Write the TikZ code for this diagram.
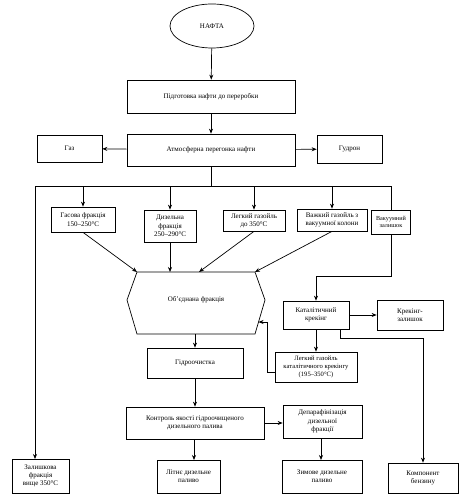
\documentclass[tikz,border=0pt]{standalone}
\usepackage{fontspec}
\setmainfont{Liberation Serif}
\usetikzlibrary{arrows.meta,shapes.geometric}
\begin{document}
\begin{tikzpicture}[x=1pt,y=-1pt,
  box/.style={draw=black,line width=0.7pt,rectangle,align=center,inner sep=0.5pt,
    font=\fontsize{7}{8.4}\selectfont},
  conn/.style={draw=black,line width=0.7pt},
  arr/.style={conn,-{Stealth[length=5pt,width=4pt]}}]
\useasboundingbox (0,0) rectangle (472,497);
\fill[white] (0,0) rectangle (472,497);
% top
\node[draw=black,line width=0.7pt,ellipse,minimum width=84pt,minimum height=44pt,
  font=\fontsize{7}{8.4}\selectfont] (nafta) at (212,26) {НАФТА};
\node[box,minimum width=168pt,minimum height=33pt] (prep) at (211,96.5) {Підготовка нафти до переробки};
\node[box,minimum width=168pt,minimum height=32pt] (atm) at (211,150) {Атмосферна перегонка нафти};
\node[box,minimum width=65pt,minimum height=27pt] (gas) at (69.5,148.5) {Газ};
\node[box,minimum width=65pt,minimum height=28pt] (gud) at (349.5,149) {Гудрон};
\draw[arr] (nafta) -- (prep);
\draw[arr] (prep) -- (atm);
\draw[arr] (atm) -- (gas);
\draw[arr] (atm) -- (gud);
% fractions
\node[box,minimum width=64pt,minimum height=25pt] (f1) at (83,219.5) {Гасова фракція\\150–250°С};
\node[box,minimum width=52pt,minimum height=32pt] (f2) at (170,226) {Дизельна\\фракція\\250–290°С};
\node[box,minimum width=62pt,minimum height=21pt] (f3) at (254,220.5) {Легкий газойль\\до 350°С};
\node[box,minimum width=70pt,minimum height=22pt] (f4) at (332,220) {Важкий газойль з\\вакуумної колони};
\node[box,minimum width=39pt,minimum height=24pt,line width=1pt,font=\fontsize{6.2}{7.6}\selectfont] (f5) at (391,222) {Вакуумний\\залишок};
\node[box,minimum width=57pt,minimum height=34pt] (resid) at (40.5,476) {Залишкова\\фракція\\вище 350°С};
% bus
\coordinate (bus) at (211,186);
\coordinate (busL) at (35,186);
\coordinate (busR) at (391,186);
\draw[conn] (atm.south) -- (bus);
\draw[conn] (busL) -- (busR);
\draw[arr] (busL) -- (35,459);
\draw[arr] (83,186) -- (f1.north);
\draw[arr] (170,186) -- (f2.north);
\draw[arr] (254,186) -- (f3.north);
\draw[arr] (332,186) -- (f4.north);
\draw[conn] (busR) -- (f5.north);
% hexagon
\coordinate (hTL) at (137,272);
\coordinate (hTR) at (255,272);
\coordinate (hR) at (265,300);
\coordinate (hBR) at (255,334);
\coordinate (hBL) at (137,334);
\coordinate (hL) at (127,300);
\draw[conn] (hTL) -- (hTR) -- (hR) -- (hBR) -- (hBL) -- (hL) -- cycle;
\node[font=\fontsize{7}{8.4}\selectfont] (hex) at (196,300) {Об’єднана фракція};
\coordinate (hT2) at (170,272);
\coordinate (hT3) at (199,272);
\coordinate (hB) at (195,334);
\coordinate (hIn) at (258.5,322);
\draw[arr] (f1.south) -- (hTL);
\draw[arr] (f2.south) -- (hT2);
\draw[arr] (f3.south) -- (hT3);
\draw[arr] (f4.south) -- (hTR);
% cracking
\node[box,minimum width=66pt,minimum height=28pt] (cat) at (316,315) {Каталітичний\\крекінг};
\node[box,minimum width=66pt,minimum height=30pt] (kz) at (410,315) {Крекінг-\\залишок};
\node[box,minimum width=82pt,minimum height=30pt,font=\fontsize{6.6}{7.9}\selectfont] (dist) at (316,367) {Легкий газойль\\каталітичного крекінгу\\(195–350°С)};
\coordinate (c1) at (391,276);
\draw[arr] (f5.south) -- (c1) -| (cat.north);
\draw[arr] (cat) -- (kz);
\draw[arr] (cat.south) -- (dist.north);
\coordinate (dL) at (267,372);
\draw[arr] ([yshift=-5pt]dist.west) -- (dL) |- (hIn);
% lower chain
\node[box,minimum width=96pt,minimum height=30pt] (hydro) at (195,363) {Гідроочистка};
\node[box,minimum width=138pt,minimum height=32pt] (ctrl) at (195,423) {Контроль якості гідроочищеного\\дизельного палива};
\node[box,minimum width=79pt,minimum height=33pt] (dep) at (322.5,421.5) {Депарафінізація\\дизельної\\фракції};
\node[box,minimum width=63pt,minimum height=33pt] (summer) at (188.5,476.5) {Літнє дизельне\\паливо};
\node[box,minimum width=80pt,minimum height=33pt] (winter) at (322,476.5) {Зимове дизельне\\паливо};
\node[box,minimum width=70pt,minimum height=30pt] (komp) at (423,478) {Компонент\\бензину};
\draw[arr] (hB) -- (hydro.north);
\draw[arr] (hydro.south) -- (ctrl.north);
\draw[arr] (ctrl.east |- 0,423) -- (dep.west |- 0,423);
\draw[arr] (194,439) -- (194,460);
\draw[arr] (321,438) -- (321,460);
\coordinate (k1) at (340,338);
\coordinate (k2) at (423,338);
\draw[arr] (340,329) -- (k1) -- (k2) -- (komp.north);
\end{tikzpicture}
\end{document}
